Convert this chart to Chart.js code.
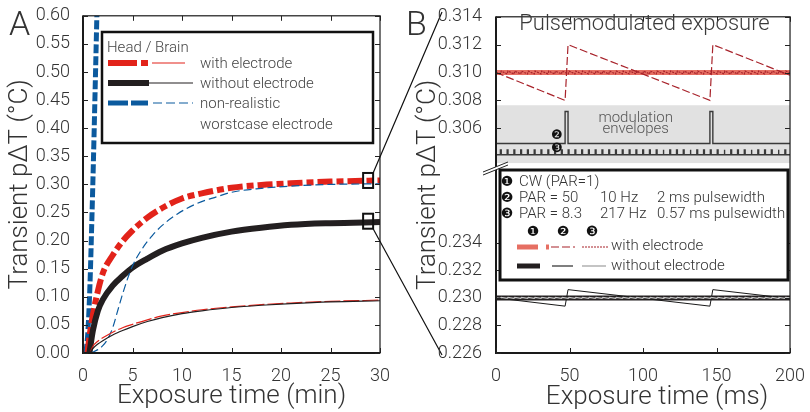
<!DOCTYPE html>
<html>
<head>
<meta charset="utf-8">
<script src="https://cdn.jsdelivr.net/npm/chart.js@4/dist/chart.umd.min.js"></script>
<style>
  body { margin: 0; background: #fff; }
  #wrap { position: relative; width: 810px; height: 412px; }
  #panelA { position: absolute; left: 0; top: 0; }
  #panelB { position: absolute; left: 400px; top: 0; }
</style>
</head>
<body>
<div id="wrap">
  <canvas id="panelA" width="450" height="412"></canvas>
  <canvas id="panelB" width="410" height="412"></canvas>
</div>
<script>
// ---- panel A: heating curves, exposure time in minutes ----
const ticksAX = [0, 5, 10, 15, 20, 25, 30];
const ticksAY = [0, 0.05, 0.1, 0.15, 0.2, 0.25, 0.3, 0.35, 0.4, 0.45, 0.5, 0.55, 0.6];

const tRedThick = [0.45, 0.7, 1.0, 1.5, 2, 3, 4, 5, 6.5, 8, 10, 12, 15, 18, 21, 25, 30];
const vRedThick = [0, 0.035, 0.068, 0.11, 0.142, 0.174, 0.199, 0.218, 0.241, 0.258, 0.275, 0.284, 0.294, 0.299, 0.302, 0.305, 0.307];
const tBlackThick = [0.65, 1.0, 1.5, 2, 3, 4, 5, 6.5, 8, 10, 12, 15, 18, 21, 25, 30];
const vBlackThick = [0, 0.04, 0.075, 0.095, 0.120, 0.137, 0.152, 0.168, 0.182, 0.195, 0.205, 0.216, 0.223, 0.228, 0.231, 0.233];
const tBlueThick = [0.3, 0.5, 0.7, 0.9, 1.05, 1.2, 1.4, 1.55];
const vBlueThick = [0, 0.04, 0.12, 0.24, 0.34, 0.45, 0.60, 0.72];
const tBlueThin = [0.8, 1.5, 2, 2.5, 3, 3.5, 4, 4.5, 5, 6, 7, 8, 9.5, 11.5, 13.5, 15, 18, 21, 25, 30];
const vBlueThin = [0, 0.006, 0.013, 0.025, 0.045, 0.075, 0.105, 0.132, 0.155, 0.186, 0.209, 0.227, 0.247, 0.266, 0.278, 0.286, 0.293, 0.297, 0.300, 0.301];
const tThin = [0.7, 1, 1.5, 2, 3, 4, 5, 6.5, 8, 10, 12, 15, 18, 21, 25, 30];
const vRedThin = [0, 0.012, 0.021, 0.027, 0.037, 0.045, 0.051, 0.059, 0.066, 0.072, 0.077, 0.082, 0.086, 0.089, 0.092, 0.094];
const vBlackThin = [0, 0.008, 0.016, 0.022, 0.032, 0.040, 0.047, 0.056, 0.063, 0.070, 0.075, 0.081, 0.085, 0.088, 0.091, 0.093];
// the two spots enlarged in panel B
const zoomT = 28.8;
const zoomV = [0.307, 0.2345];

// ---- panel B: pulse modulated exposure, time in ms ----
const ticksBX = [0, 50, 100, 150, 200];
const ticksBHi = [0.306, 0.308, 0.310, 0.312, 0.314];
const ticksBLo = [0.226, 0.228, 0.230, 0.232, 0.234];
const pulse2 = [47, 145.5];          // 10 Hz, 2 ms
const pulse2Width = 2;
const pulse3 = [3.0, 7.6, 12.2, 16.8, 21.4, 26.0, 30.6, 35.3, 39.9, 44.5, 49.1, 53.7, 58.3, 62.9, 67.5,
  72.1, 76.7, 81.3, 85.9, 90.6, 95.2, 99.8, 104.4, 109.0, 113.6, 118.2, 122.8, 127.4, 132.0, 136.6,
  141.2, 145.8, 150.5, 155.1, 159.7, 164.3, 168.9, 173.5, 178.1, 182.7, 187.3, 191.9, 196.5]; // 217 Hz
const pulse3Width = 0.57;
const sawT = [0, 47, 49, 145.5, 147.5, 200];
const sawWithV = [0.3100, 0.3080, 0.3120, 0.3080, 0.3120, 0.3098];
const sawWithoutV = [0.2300, 0.2294, 0.2306, 0.2294, 0.2306, 0.22995];
const cwWith = 0.3100;
const cwWithout = 0.2300;
const rippleWith = [0.3099, 0.3101];
const rippleWithout = [0.22997, 0.23003];
const env2Levels = [0.3049, 0.3072];
const env3Levels = [0.3041, 0.30445];
const envBand = [0.3035, 0.30765];

const FONT = "Roboto, 'Liberation Sans', Arial, sans-serif";
Chart.defaults.font.family = FONT;
Chart.defaults.font.weight = '300';
Chart.defaults.color = '#333';

const RED = '#e2231a', BLUE = '#0b5a9e', BLACK = '#231f20';
const SALMON = '#e66f63', DARKRED = '#a8232b';

function pts(xs, ys) { return xs.map((x, i) => ({ x: x, y: ys[i] })); }

function steps(onsets, w, lv, t0, t1) {
  const out = [{ x: t0, y: lv[0] }];
  onsets.forEach(t => {
    out.push({ x: t, y: lv[0] }, { x: t, y: lv[1] }, { x: t + w, y: lv[1] }, { x: t + w, y: lv[0] });
  });
  out.push({ x: t1, y: lv[0] });
  return out;
}

function ripple(onsets, w, lv, t0, t1) {
  const mid = (lv[0] + lv[1]) / 2;
  const out = [{ x: t0, y: mid }];
  onsets.forEach(t => { out.push({ x: t, y: lv[0] }, { x: t + w, y: lv[1] }); });
  out.push({ x: t1, y: mid });
  return out;
}

function setTicks(list) { return s => { s.ticks = list.map(v => ({ value: v })); }; }

function seg(ctx, x1, x2, y, color, width, dash) {
  ctx.save();
  ctx.strokeStyle = color; ctx.lineWidth = width; ctx.setLineDash(dash || []);
  ctx.beginPath(); ctx.moveTo(x1, y); ctx.lineTo(x2, y); ctx.stroke();
  ctx.restore();
}

function frame(chart) {
  const { ctx, chartArea: a } = chart;
  ctx.save();
  ctx.strokeStyle = '#1a1a1a';
  ctx.lineWidth = 1.2;
  ctx.strokeRect(a.left, a.top, a.right - a.left, a.bottom - a.top);
  ctx.lineWidth = 2;
  ctx.beginPath(); ctx.moveTo(a.left, a.top); ctx.lineTo(a.left, a.bottom); ctx.lineTo(a.right, a.bottom); ctx.stroke();
  ctx.restore();
}

// matlab style tick marks pointing into the plot on all four sides
function innerTicks(chart, len) {
  const { ctx, chartArea: a } = chart;
  ctx.save();
  ctx.strokeStyle = '#222'; ctx.lineWidth = 1;
  Object.values(chart.scales).forEach(s => {
    s.ticks.forEach(t => {
      const p = Math.round(s.getPixelForValue(t.value)) + 0.5;
      ctx.beginPath();
      if (s.isHorizontal()) {
        ctx.moveTo(p, a.bottom); ctx.lineTo(p, a.bottom - len);
        ctx.moveTo(p, a.top); ctx.lineTo(p, a.top + len);
      } else {
        ctx.moveTo(a.left, p); ctx.lineTo(a.left + len, p);
        ctx.moveTo(a.right, p); ctx.lineTo(a.right - len, p);
      }
      ctx.stroke();
    });
  });
  ctx.restore();
}

function text(ctx, str, x, y, size, color, align) {
  ctx.save();
  ctx.font = '300 ' + size + 'px ' + FONT;
  ctx.fillStyle = color || '#333';
  ctx.textAlign = align || 'left';
  ctx.textBaseline = 'middle';
  ctx.fillText(str, x, y);
  ctx.restore();
}

function badge(ctx, n, x, y, size) {
  ctx.save();
  ctx.font = size + 'px "DejaVu Sans"';
  ctx.fillStyle = '#111';
  ctx.textAlign = 'center';
  ctx.textBaseline = 'middle';
  ctx.fillText(n, x, y);
  ctx.restore();
}

const panelAExtras = {
  id: 'panelAExtras',
  afterDraw(chart) {
    const { ctx, scales: { x, y } } = chart;
    frame(chart);
    innerTicks(chart, 5);

    // enlarged spots and connector lines towards panel B
    const px = x.getPixelForValue(zoomT);
    const pyTop = y.getPixelForValue(zoomV[0]);
    const pyBot = y.getPixelForValue(zoomV[1]);
    ctx.save();
    ctx.strokeStyle = '#111';
    ctx.lineWidth = 2;
    ctx.strokeRect(px - 5, pyTop - 7.5, 10, 15);
    ctx.strokeRect(px - 5, pyBot - 7.5, 10, 15);
    ctx.lineWidth = 1.2;
    ctx.beginPath();
    ctx.moveTo(px + 5, pyTop - 7.5); ctx.lineTo(442, 12);
    ctx.moveTo(px + 5, pyBot + 7.5); ctx.lineTo(442, 355);
    ctx.stroke();
    ctx.restore();

    // legend
    ctx.save();
    ctx.fillStyle = '#fff';
    ctx.fillRect(102, 32, 271, 111);
    ctx.strokeStyle = '#111'; ctx.lineWidth = 2.5;
    ctx.strokeRect(102, 32, 271, 111);
    ctx.restore();
    text(ctx, 'Head / Brain', 107, 48, 15, '#444');
    seg(ctx, 108, 137, 63, RED, 6);
    seg(ctx, 141, 148, 63, RED, 6);
    seg(ctx, 152, 185, 63, RED, 1.2);
    seg(ctx, 108, 149, 83, BLACK, 6);
    seg(ctx, 149, 193, 83, BLACK, 1.2);
    seg(ctx, 108, 128, 103, BLUE, 5);
    seg(ctx, 131, 148, 103, BLUE, 5);
    seg(ctx, 153, 193, 103, BLUE, 1.2, [9, 4]);
    text(ctx, 'with electrode', 200, 64, 15, '#444');
    text(ctx, 'without electrode', 200, 84, 15, '#444');
    text(ctx, 'non-realistic', 200, 104, 15, '#444');
    text(ctx, 'worstcase electrode', 200, 125, 15, '#444');

    ctx.save();
    ctx.font = '300 34px ' + FONT;
    ctx.fillStyle = '#333';
    ctx.fillText('A', 9, 35);
    ctx.restore();
  }
};

new Chart(document.getElementById('panelA'), {
  type: 'line',
  data: {
    datasets: [
      { data: pts(tThin, vBlackThin), borderColor: BLACK, borderWidth: 1.2 },
      { data: pts(tThin, vRedThin), borderColor: RED, borderWidth: 1.2, borderDash: [16, 3] },
      { data: pts(tBlueThin, vBlueThin), borderColor: BLUE, borderWidth: 1.2, borderDash: [8, 4] },
      { data: pts(tBlackThick, vBlackThick), borderColor: BLACK, borderWidth: 6 },
      { data: pts(tRedThick, vRedThick), borderColor: RED, borderWidth: 6, borderDash: [15, 4, 7, 4] },
      { data: pts(tBlueThick, vBlueThick), borderColor: BLUE, borderWidth: 5, borderDash: [9, 3], clip: 0 }
    ]
  },
  options: {
    responsive: false,
    animation: false,
    layout: { padding: { top: 14, right: 70, bottom: 0, left: 0 } },
    datasets: { line: { pointRadius: 0, fill: false, cubicInterpolationMode: 'monotone', borderCapStyle: 'butt' } },
    plugins: { legend: { display: false }, tooltip: { enabled: false } },
    scales: {
      x: {
        type: 'linear', min: 0, max: 30,
        afterBuildTicks: setTicks(ticksAX),
        afterFit: s => { s.height = 59; },
        grid: { display: false }, border: { display: false },
        ticks: { padding: 5, font: { size: 18 }, color: '#333', maxRotation: 0, autoSkip: false },
        title: { display: true, text: 'Exposure time (min)', font: { size: 26 }, color: '#333', padding: { top: 0, bottom: 0 } }
      },
      y: {
        type: 'linear', min: 0, max: 0.6,
        afterBuildTicks: setTicks(ticksAY),
        afterFit: s => { s.width = 83; },
        grid: { display: false }, border: { display: false },
        ticks: { padding: 5, font: { size: 18 }, color: '#333', autoSkip: false, callback: v => v.toFixed(2) },
        title: { display: true, text: 'Transient p\u0394T (\u00b0C)', font: { size: 26 }, color: '#333', padding: { top: 5, bottom: 0 } }
      }
    }
  },
  plugins: [panelAExtras]
});

const panelBExtras = {
  id: 'panelBExtras',
  beforeDatasetsDraw(chart) {
    const { ctx, scales: { x, yHi } } = chart;
    const top = yHi.getPixelForValue(envBand[1]);
    const bot = yHi.getPixelForValue(envBand[0]);
    const l = x.getPixelForValue(0), r = x.getPixelForValue(200);
    ctx.save();
    ctx.fillStyle = '#e1e1e1';
    ctx.fillRect(l, top, r - l, bot - top);
    ctx.restore();
    text(ctx, 'modulation', x.getPixelForValue(95), yHi.getPixelForValue(0.3067), 15, '#555', 'center');
    text(ctx, 'envelopes', x.getPixelForValue(95), yHi.getPixelForValue(0.30593), 15, '#555', 'center');
  },
  afterDraw(chart) {
    const { ctx, chartArea: a, scales: { x, yHi } } = chart;
    frame(chart);
    innerTicks(chart, 5);

    // axis break
    ctx.save();
    ctx.fillStyle = '#fff';
    ctx.beginPath();
    ctx.moveTo(83, 172); ctx.lineTo(108, 162); ctx.lineTo(108, 165); ctx.lineTo(83, 175); ctx.closePath();
    ctx.fill();
    ctx.strokeStyle = '#222'; ctx.lineWidth = 1;
    ctx.beginPath();
    ctx.moveTo(83, 172); ctx.lineTo(108, 162);
    ctx.moveTo(83, 175); ctx.lineTo(108, 165);
    ctx.stroke();
    ctx.restore();

    text(ctx, 'Pulsemodulated exposure', x.getPixelForValue(101), 24, 22, '#3a3a3a', 'center');
    badge(ctx, '\u2777', x.getPixelForValue(41.4), yHi.getPixelForValue(0.3055), 13);
    badge(ctx, '\u2778', x.getPixelForValue(41.4), yHi.getPixelForValue(0.30455), 13);

    // legend
    ctx.save();
    ctx.fillStyle = '#fff';
    ctx.fillRect(100, 170, 288, 110);
    ctx.strokeStyle = '#111'; ctx.lineWidth = 3;
    ctx.strokeRect(100, 170, 288, 110);
    ctx.restore();
    badge(ctx, '\u2776', 107, 182, 14);
    badge(ctx, '\u2777', 107, 198, 14);
    badge(ctx, '\u2778', 107, 214, 14);
    text(ctx, 'CW (PAR=1)', 119, 182, 15, '#333');
    text(ctx, 'PAR = 50', 119, 198, 15, '#333');
    text(ctx, '10 Hz', 200, 198, 15, '#333');
    text(ctx, '2 ms pulsewidth', 257, 198, 15, '#333');
    text(ctx, 'PAR = 8.3', 119, 214, 15, '#333');
    text(ctx, '217 Hz', 200, 214, 15, '#333');
    text(ctx, '0.57 ms pulsewidth', 257, 214, 15, '#333');
    badge(ctx, '\u2776', 133, 232, 14);
    badge(ctx, '\u2777', 163, 232, 14);
    badge(ctx, '\u2778', 192, 232, 14);
    seg(ctx, 117, 138, 247, SALMON, 5);
    seg(ctx, 146, 149, 247, SALMON, 5);
    seg(ctx, 151, 175, 247, DARKRED, 1.2, [8, 3]);
    seg(ctx, 182, 208, 247, DARKRED, 1.2, [2, 1]);
    seg(ctx, 117, 140, 266, BLACK, 5);
    seg(ctx, 152, 173, 266, '#555', 1.5);
    seg(ctx, 182, 206, 266, '#b0b0b0', 1.5);
    text(ctx, 'with electrode', 211, 246, 15, '#333');
    text(ctx, 'without electrode', 211, 266, 15, '#333');

    // axis titles
    ctx.save();
    ctx.translate(28, (a.top + a.bottom) / 2);
    ctx.rotate(-Math.PI / 2);
    text(ctx, 'Transient p\u0394T (\u00b0C)', 0, 0, 26, '#333', 'center');
    ctx.restore();
    text(ctx, 'Exposure time (ms)', 257, 397, 26, '#333', 'center');

    ctx.save();
    ctx.font = '300 34px ' + FONT;
    ctx.fillStyle = '#333';
    ctx.fillText('B', 6, 35);
    ctx.restore();
  }
};

new Chart(document.getElementById('panelB'), {
  type: 'line',
  data: {
    datasets: [
      { yAxisID: 'yHi', data: ripple(pulse3, pulse3Width, rippleWith, 0, 200), borderColor: DARKRED, borderWidth: 1.2, borderDash: [2, 1] },
      { yAxisID: 'yHi', data: pts(sawT, sawWithV), borderColor: DARKRED, borderWidth: 1.2, borderDash: [8, 3] },
      { yAxisID: 'yHi', data: pts([0, 200], [cwWith, cwWith]), borderColor: SALMON, borderWidth: 5 },
      { yAxisID: 'yHi', data: steps(pulse2, pulse2Width, env2Levels, 0, 200), borderColor: '#3a3a3a', borderWidth: 1.4 },
      { yAxisID: 'yHi', data: steps(pulse3, pulse3Width, env3Levels, 0, 200), borderColor: '#3a3a3a', borderWidth: 1.4 },
      { yAxisID: 'yLo', data: ripple(pulse3, pulse3Width, rippleWithout, 0, 200), borderColor: '#c8c8c8', borderWidth: 1.2 },
      { yAxisID: 'yLo', data: pts(sawT, sawWithoutV), borderColor: '#1a1a1a', borderWidth: 1 },
      { yAxisID: 'yLo', data: pts([0, 200], [cwWithout, cwWithout]), borderColor: BLACK, borderWidth: 5 }
    ]
  },
  options: {
    responsive: false,
    animation: false,
    layout: { padding: { top: 14, right: 19, bottom: 0, left: 0 } },
    datasets: { line: { pointRadius: 0, fill: false, tension: 0, borderCapStyle: 'butt' } },
    plugins: { legend: { display: false }, tooltip: { enabled: false } },
    scales: {
      x: {
        type: 'linear', min: 0, max: 200,
        afterBuildTicks: setTicks(ticksBX),
        afterFit: s => { s.height = 59; },
        grid: { display: false }, border: { display: false },
        ticks: { padding: 5, font: { size: 18 }, color: '#333', maxRotation: 0, autoSkip: false }
      },
      yHi: {
        type: 'linear', position: 'left', stack: 'b', stackWeight: 151, weight: 2,
        min: 0.30325, max: 0.314,
        afterBuildTicks: setTicks(ticksBHi),
        afterFit: s => { s.width = 96; },
        grid: { display: false }, border: { display: false },
        ticks: { padding: 6, font: { size: 18 }, color: '#333', autoSkip: false, callback: v => v.toFixed(3) }
      },
      yLo: {
        type: 'linear', position: 'left', stack: 'b', stackWeight: 188, weight: 1,
        min: 0.226, max: 0.23953,
        afterBuildTicks: setTicks(ticksBLo),
        afterFit: s => { s.width = 96; },
        grid: { display: false }, border: { display: false },
        ticks: { padding: 6, font: { size: 18 }, color: '#333', autoSkip: false, callback: v => v.toFixed(3) }
      }
    }
  },
  plugins: [panelBExtras]
});
</script>
</body>
</html>
